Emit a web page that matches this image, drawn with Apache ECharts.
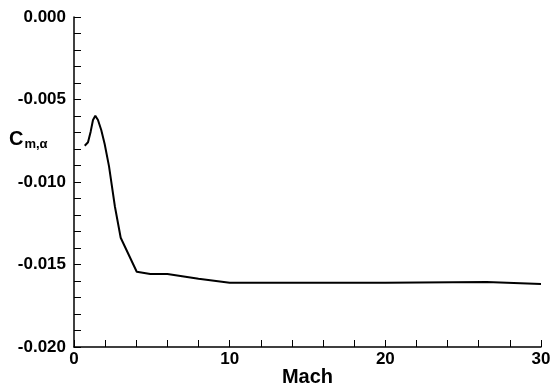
<!DOCTYPE html>
<html><head><meta charset="utf-8">
<script src="https://cdn.jsdelivr.net/npm/echarts@6/dist/echarts.min.js"></script>
<style>html,body{margin:0;padding:0;background:#fff}#c{width:551px;height:387px}</style>
</head><body><div id="c"></div>
<script>
var mach = [0.69, 0.9, 1.07, 1.22, 1.37, 1.54, 1.75, 1.97, 2.25, 2.63, 3.0, 4.03, 4.9, 6.0, 8.0, 10.0, 15.0, 20.0, 26.5, 30.0];
var cma  = [-0.0078, -0.00759, -0.00695, -0.00624, -0.00598, -0.00624, -0.00685, -0.0077, -0.00905, -0.0115, -0.01338, -0.01544, -0.01558, -0.01558, -0.01587, -0.0161, -0.0161, -0.0161, -0.01606, -0.01618];
var xTicks = [0, 10, 20, 30];
var yTicks = [0.000, -0.005, -0.010, -0.015, -0.020];

var chart = echarts.init(document.getElementById('c'), null, {renderer: 'canvas'});
var font = 'Liberation Sans, Arial, sans-serif';
chart.setOption({
  animation: false,
  backgroundColor: '#fff',
  grid: {left: 74, right: 10, top: 17, bottom: 40, containLabel: false, outerBoundsMode: 'none'},
  xAxis: {
    type: 'value', min: xTicks[0], max: xTicks[xTicks.length-1], interval: 10,
    name: 'Mach', nameLocation: 'middle', nameGap: 20, nameMoveOverlap: false,
    nameTextStyle: {color: '#000', fontFamily: font, fontWeight: 'bold', fontSize: 20},
    axisLine: {show: true, onZero: false, lineStyle: {color: '#000', width: 1.5}},
    axisTick: {show: true, inside: true, length: 7, lineStyle: {color: '#000', width: 1}},
    minorTick: {show: true, splitNumber: 5, length: 7, lineStyle: {color: '#000', width: 1}},
    axisLabel: {color: '#000', fontFamily: font, fontWeight: 'bold', fontSize: 17, margin: 4},
    splitLine: {show: false}
  },
  yAxis: {
    type: 'value', min: yTicks[yTicks.length-1], max: yTicks[0], interval: 0.005,
    axisLine: {show: true, onZero: false, lineStyle: {color: '#000', width: 1.5}},
    axisTick: {show: true, inside: true, length: 7, lineStyle: {color: '#000', width: 1}},
    minorTick: {show: true, splitNumber: 5, length: 7, lineStyle: {color: '#000', width: 1}},
    axisLabel: {color: '#000', fontFamily: font, fontWeight: 'bold', fontSize: 17, margin: 8,
      formatter: function(v){ return v.toFixed(3); }},
    splitLine: {show: false}
  },
  graphic: [{
    type: 'text', left: 9, top: 129,
    style: {
      text: '{c|C}{s|m,α}',
      rich: {
        c: {fontFamily: font, fontWeight: 'bold', fontSize: 20, fill: '#000'},
        s: {fontFamily: font, fontWeight: 'bold', fontSize: 13, fill: '#000', padding: [10, 0, 0, 1]}
      }
    }
  }],
  series: [{
    type: 'line', showSymbol: false, smooth: false,
    data: mach.map(function(m, i){ return [m, cma[i]]; }),
    lineStyle: {color: '#000', width: 2}
  }]
});
</script></body></html>
